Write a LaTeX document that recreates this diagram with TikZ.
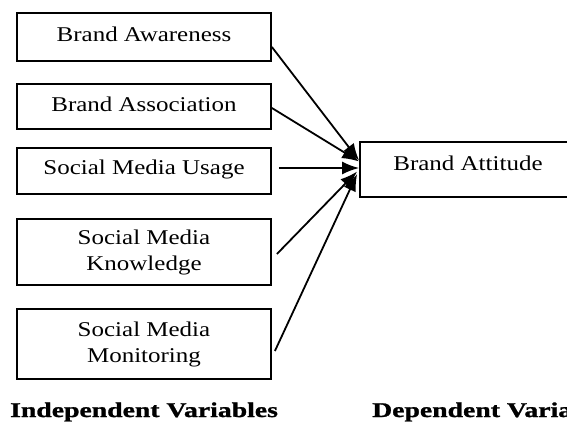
\documentclass[tikz,border=0pt]{standalone}
\usepackage{fontspec}
\setmainfont{Liberation Serif}[FakeStretch=1.19]
\newfontfamily\capfont{Liberation Serif}[FakeStretch=1.32,FakeBold=1.2]
\usetikzlibrary{arrows.meta}
\begin{document}
\begin{tikzpicture}[x=1pt,y=-1pt,
  varbox/.style={draw, line width=1.8pt, minimum width=254pt, align=center,
    inner sep=0pt, font=\fontsize{21}{26}\selectfont},
  link/.style={line width=1.8pt, -{Latex[length=17pt,width=13pt]}},
  caption/.style={anchor=base west, inner sep=0pt, font=\capfont\bfseries\fontsize{21}{25}\selectfont}]
\useasboundingbox (0,0) rectangle (567,421);
\clip (0,0) rectangle (567,421);

% independent variables
\node[varbox, minimum height=48pt, text depth=6pt] (aw) at (144,37) {Brand Awareness};
\node[varbox, minimum height=45pt, text depth=4pt] (as) at (144,106.5) {Brand Association};
\node[varbox, minimum height=46pt, text depth=8pt] (us) at (144,171) {Social Media Usage};
\node[varbox, minimum height=66pt] (kn) at (144,252) {Social Media\\Knowledge};
\node[varbox, minimum height=70pt] (mo) at (144,344) {Social Media\\Monitoring};

% dependent variable
\node[varbox, minimum width=216pt, minimum height=55pt, text depth=12pt] (att) at (468,169.5) {Brand Attitude};

% paths into the dependent variable
\draw[link] ([yshift=-10pt]aw.east) -- ([yshift=9pt]att.west);
\draw[link] ([yshift=-1.5pt]as.east) -- ([yshift=8pt]att.west);
\draw[link] ([xshift=7pt,yshift=3pt]us.east) -- ([yshift=1.5pt]att.west);
\draw[link] ([xshift=5pt,yshift=-2pt]kn.east) -- ([xshift=-2pt,yshift=-2pt]att.west);
\draw[link] ([xshift=3pt,yshift=-7pt]mo.east) -- ([xshift=-2pt,yshift=-4.5pt]att.west);

% column captions
\node[caption] (ind) at (10,417) {Independent Variables};
\node[caption] (dep) at (372,417) {Dependent Variables};
\end{tikzpicture}
\end{document}
